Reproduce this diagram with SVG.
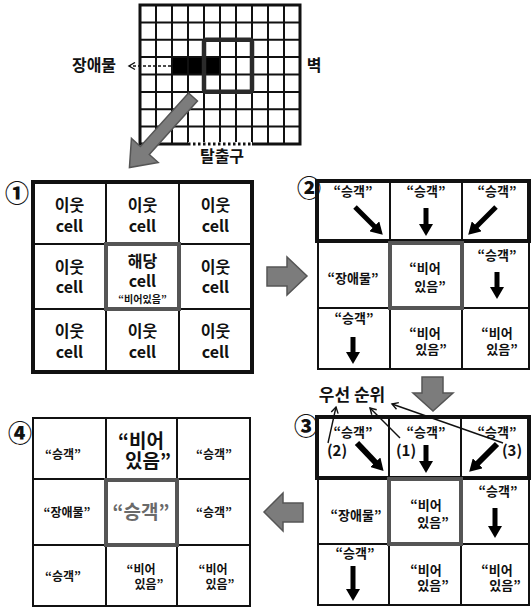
<svg xmlns="http://www.w3.org/2000/svg" width="531" height="607" viewBox="0 0 531 607">
<defs>
<style>
text{font-family:"Noto Sans CJK KR","Noto Sans",sans-serif;font-weight:bold;fill:#111;text-anchor:middle}
.t17{font-size:17px}
.t16{font-size:16px}
.t15{font-size:15px}
.t13{font-size:13px}
.t12{font-size:12px}
.t10{font-size:10px}
.big{font-size:19px}
.num{font-size:24px;font-weight:900}
.thin{fill:none;stroke:#111;stroke-width:2}
.thick{fill:none;stroke:#111;stroke-width:4}
.hl{fill:none;stroke:#555;stroke-width:4}
.blk{stroke:#000;stroke-width:5;marker-end:url(#head)}
.pri{stroke:#111;stroke-width:1.4;fill:none;marker-end:url(#open)}
.gray{fill:#7c7c7c;stroke:#555;stroke-width:1.5}
</style>
<marker id="head" markerUnits="userSpaceOnUse" markerWidth="12" markerHeight="14" refX="1" refY="7" orient="auto" viewBox="0 0 12 14"><path d="M0,0 L12,7 L0,14 Z" fill="#000"/></marker>
<marker id="open" markerUnits="userSpaceOnUse" markerWidth="9" markerHeight="9" refX="7" refY="4.5" orient="auto" viewBox="0 0 9 9"><path d="M1,1 L7,4.5 L1,8" fill="none" stroke="#111" stroke-width="1.4"/></marker>
</defs>
<rect width="531" height="607" fill="#fff"/>

<g id="top-grid">
<rect x="172" y="57.1" width="48" height="17.4" fill="#000"/>
<path class="thin" d="M156,5V144M172,5V144M188,5V144M204,5V144M220,5V144M236,5V144M252,5V144M268,5V144M284,5V144M140,22.4H300M140,39.75H300M140,57.1H300M140,74.5H300M140,91.9H300M140,109.25H300M140,126.6H300"/>
<rect x="140" y="5" width="160" height="139" fill="none" stroke="#111" stroke-width="3"/>
<rect x="204" y="39.75" width="48" height="52.1" rx="2" fill="none" stroke="#2a2a2a" stroke-width="4.5"/>
<line x1="188" y1="144" x2="252" y2="144" stroke="#fff" stroke-width="4"/>
<line x1="188" y1="144" x2="252" y2="144" stroke="#111" stroke-width="3" stroke-dasharray="2.5 2.5"/>
</g>
<g id="label-obstacle">
<line x1="171" y1="66" x2="129" y2="66" stroke="#111" stroke-width="1.5" stroke-dasharray="3 2" marker-end="url(#open)"/>
<text class="t16" x="94" y="71">장애물</text>
</g>
<g id="label-wall"><text class="t16" x="314" y="71">벽</text></g>
<g id="label-exit"><text class="t16" x="222" y="162">탈출구</text></g>
<g id="zoom-arrow">
<polygon class="gray" transform="translate(193,97) rotate(132)" points="0,-6 72,-6 72,-18 95,0 72,18 72,6 0,6"/>
</g>

<g id="panel1">
<text class="num" x="17" y="201.5">①</text>
<path class="thin" d="M106,182V372M179,182V372M33,244H252M33,309H252"/>
<rect class="thick" x="33" y="182" width="219" height="190"/>
<rect class="hl" x="106" y="244" width="73" height="65"/>
<g class="t16">
<text x="69.5" y="211">이웃<tspan x="69.5" y="232">cell</tspan></text>
<text x="142.5" y="211">이웃<tspan x="142.5" y="232">cell</tspan></text>
<text x="215.5" y="211">이웃<tspan x="215.5" y="232">cell</tspan></text>
<text x="69.5" y="273">이웃<tspan x="69.5" y="293">cell</tspan></text>
<text x="142.5" y="267">해당<tspan x="142.5" y="287">cell</tspan><tspan x="142.5" y="303" style="font-size:10px">“비어있음”</tspan></text>
<text x="215.5" y="273">이웃<tspan x="215.5" y="293">cell</tspan></text>
<text x="69.5" y="337">이웃<tspan x="69.5" y="358">cell</tspan></text>
<text x="142.5" y="337">이웃<tspan x="142.5" y="358">cell</tspan></text>
<text x="215.5" y="337">이웃<tspan x="215.5" y="358">cell</tspan></text>
</g>
</g>

<g id="panel2">
<text class="num" x="309" y="196.5">②</text>
<path class="thin" d="M318,241V369H529V241M390,241V369M462,241V369M318,308H529"/>
<rect class="thick" x="317" y="181" width="212" height="60"/>
<path class="thin" d="M390,181V241M462,181V241"/>
<rect class="hl" x="390" y="243" width="72" height="65"/>
<g class="t13">
<text x="353" y="196">“승객”</text><text x="426" y="196">“승객”</text><text x="497" y="196">“승객”</text>
<text x="353" y="283">“장애물”</text>
<text x="425" y="273">“비어<tspan x="430" y="291">있음”</tspan></text>
<text x="497" y="260">“승객”</text>
<text x="354" y="323">“승객”</text>
<text x="425" y="338">“비어<tspan x="431" y="354">있음”</tspan></text>
<text x="497" y="338">“비어<tspan x="502" y="354">있음”</tspan></text>
</g>
</g>

<g id="panel3">
<text class="num" x="306" y="434.5">③</text>
<path class="thin" d="M318,478V605H529V478M389,478V605M461,478V605M318,544H529"/>
<rect class="thick" x="317" y="417" width="212" height="61"/>
<path class="thin" d="M389,417V478M461,417V478"/>
<rect class="hl" x="389" y="479" width="72" height="65"/>
<g class="t13">
<text x="353" y="437">“승객”</text><text x="426" y="437">“승객”</text><text x="497" y="437">“승객”</text>
<text x="356" y="520">“장애물”</text>
<text x="426" y="510">“비어<tspan x="433" y="527">있음”</tspan></text>
<text x="498" y="496">“승객”</text>
<text x="355" y="558">“승객”</text>
<text x="426" y="575">“비어<tspan x="433" y="590">있음”</tspan></text>
<text x="497" y="575">“비어<tspan x="505" y="590">있음”</tspan></text>
</g>
<g class="t15">
<text x="337" y="456">(2)</text><text x="406" y="456">(1)</text><text x="512" y="456">(3)</text>
</g>
</g>

<g id="label-priority"><text class="t17" x="352" y="401">우선 순위</text></g>

<g id="panel4">
<text class="num" x="20" y="441.5">④</text>
<path class="thin" d="M106,418V606M177,418V606M33,479H250M33,545H250"/>
<rect class="thin" x="33" y="418" width="217" height="188"/>
<rect class="hl" x="106" y="480" width="71" height="65"/>
<g class="t12">
<text x="63" y="459">“승객”</text><text x="214" y="459">“승객”</text>
<text x="67" y="517">“장애물”</text><text x="214" y="517">“승객”</text>
<text x="63" y="581">“승객”</text>
<text x="141" y="574">“비어<tspan x="149" y="589">있음”</tspan></text>
<text x="213" y="574">“비어<tspan x="220" y="589">있음”</tspan></text>
</g>
<g class="big">
<text x="141" y="448">“비어<tspan x="148" y="468">있음”</tspan></text>
<text x="141" y="519" style="fill:#6a6a6a">“승객”</text>
</g>
</g>

<g id="step-arrows">
<polygon class="gray" points="267,267 287,267 287,257 307,276 287,295 287,286 267,286"/>
<polygon class="gray" points="422,377 443,377 443,393 453,393 433,411 413,393 422,393"/>
<polygon class="gray" points="303,503 283,503 283,493 264,512 283,531 283,522 303,522"/>
</g>

<g id="connectors">
<line class="blk" x1="355" y1="207" x2="375" y2="227"/>
<line class="blk" x1="426" y1="208" x2="426" y2="225"/>
<line class="blk" x1="496" y1="207" x2="476" y2="227"/>
<line class="blk" x1="497" y1="272" x2="497" y2="288"/>
<line class="blk" x1="353" y1="337" x2="353" y2="353"/>
<line class="blk" x1="357" y1="443" x2="376" y2="463" style="stroke-width:6"/>
<line class="blk" x1="426" y1="445" x2="426" y2="462"/>
<line class="blk" x1="497" y1="444" x2="477" y2="464" style="stroke-width:6"/>
<line class="blk" x1="495" y1="508" x2="495" y2="527"/>
<line class="blk" x1="353" y1="566" x2="353" y2="590"/>
<line class="pri" x1="328" y1="443" x2="336" y2="407"/>
<line class="pri" x1="400" y1="438" x2="370" y2="408"/>
<line class="pri" x1="503" y1="443" x2="392" y2="404"/>
</g>
</svg>
